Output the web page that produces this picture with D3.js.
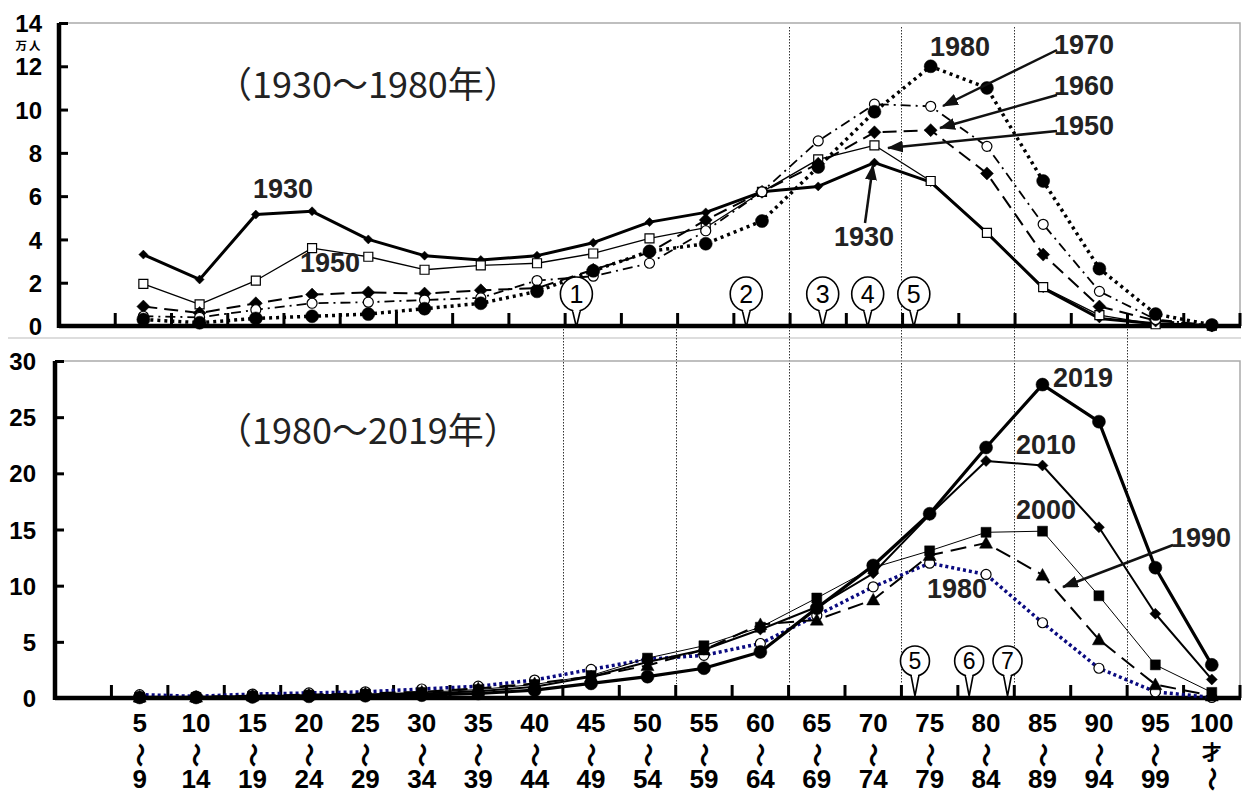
<!DOCTYPE html>
<html>
<head>
<meta charset="utf-8">
<script src="https://cdn.jsdelivr.net/npm/d3@7"></script>
<style>
html, body { margin: 0; padding: 0; background: #fff; }
svg { display: block; }
</style>
</head>
<body>
<svg id="chart" width="1248" height="794"></svg>
<script>
// age groups on the x axis (first band "0～4" is left empty in the chart)
const ageFrom = ["5", "10", "15", "20", "25", "30", "35", "40", "45", "50", "55", "60", "65", "70", "75", "80", "85", "90", "95", "100"];
const ageTo = ["9", "14", "19", "24", "29", "34", "39", "44", "49", "54", "59", "64", "69", "74", "79", "84", "89", "94", "99", ""];
const categories = ageFrom.map((a, i) => a + "～" + ageTo[i]);

// top panel (万人), 1930-1980
const v1930 = [3.3, 2.15, 5.15, 5.3, 4.0, 3.25, 3.05, 3.25, 3.85, 4.8, 5.25, 6.2, 6.45, 7.55, 6.65, 4.3, 1.75, 0.35, 0.1, 0.02];
const v1950 = [1.95, 1.0, 2.1, 3.6, 3.2, 2.6, 2.8, 2.9, 3.35, 4.05, 4.55, 6.2, 7.7, 8.35, 6.7, 4.3, 1.8, 0.5, 0.08, 0.02];
const v1960 = [0.9, 0.6, 1.05, 1.45, 1.55, 1.5, 1.65, 1.75, 2.6, 3.4, 4.9, 6.2, 7.5, 8.95, 9.05, 7.05, 3.3, 0.9, 0.25, 0.02];
const v1970 = [0.45, 0.4, 0.75, 1.05, 1.1, 1.2, 1.3, 2.1, 2.3, 2.9, 4.4, 6.2, 8.55, 10.25, 10.15, 8.3, 4.7, 1.6, 0.3, 0.02];
const v1980 = [0.3, 0.15, 0.35, 0.45, 0.55, 0.8, 1.05, 1.6, 2.55, 3.45, 3.8, 4.85, 7.35, 9.9, 12.0, 11.0, 6.7, 2.65, 0.55, 0.05];

// bottom panel, 1980-2019
const v1990 = [0.1, 0.1, 0.2, 0.3, 0.4, 0.55, 0.85, 1.3, 1.9, 2.9, 4.3, 6.55, 6.95, 8.75, 12.7, 13.8, 10.95, 5.2, 1.2, 0.2];
const v2000 = [0.05, 0.05, 0.15, 0.25, 0.35, 0.5, 0.75, 1.2, 2.0, 3.55, 4.65, 6.3, 8.9, 11.6, 13.1, 14.75, 14.85, 9.1, 2.95, 0.5];
const v2010 = [0.05, 0.05, 0.15, 0.25, 0.3, 0.4, 0.6, 1.0, 1.9, 3.2, 4.3, 6.1, 8.1, 11.1, 16.3, 21.1, 20.7, 15.2, 7.5, 1.65];
const v2019 = [0.05, 0.05, 0.1, 0.15, 0.2, 0.25, 0.4, 0.7, 1.3, 1.9, 2.65, 4.1, 8.0, 11.8, 16.4, 22.3, 27.9, 24.6, 11.6, 2.95];

const yTicksTop = [0, 2, 4, 6, 8, 10, 12, 14];
const yTicksBottom = [0, 5, 10, 15, 20, 25, 30];

// circled markers (age position)
const balloonsTop = [["1", 45.5], ["2", 60.6], ["3", 67.4], ["4", 71.4], ["5", 75.5]];
const balloonsBottom = [["5", 75.7], ["6", 80.5], ["7", 83.9]];

// dotted vertical guides at the left edge of these age groups
const guidesFull = ["65～69", "75～79", "85～89"];
const guidesLow = ["45～49", "55～59", "95～99"];

const svg = d3.select("#chart");
const narrow = "'Liberation Sans Narrow', 'Arial Narrow', 'Liberation Sans', Arial, sans-serif";
const jp = "'Noto Sans CJK JP', 'Noto Sans', sans-serif";

const panels = {
  top: { left: 59, right: 1240, top: 23, bottom: 326, max: 14, ticks: yTicksTop, labelX: 42 },
  bottom: { left: 55, right: 1240, top: 361, bottom: 698, max: 30, ticks: yTicksBottom, labelX: 36 }
};

function makeScales(p) {
  const x = d3.scaleBand().domain(["0～4"].concat(categories)).range([p.left, p.right]).padding(0);
  const y = d3.scaleLinear().domain([0, p.max]).range([p.bottom, p.top]);
  const cx = c => x(c) + x.bandwidth() / 2;
  const age = d3.scaleLinear().domain([7, 102]).range([cx(categories[0]), cx(categories[19])]);
  return { x, y, cx, age };
}
const sTop = makeScales(panels.top);
const sBot = makeScales(panels.bottom);

// arrow head
svg.append("defs").append("marker")
  .attr("id", "arrow").attr("markerUnits", "userSpaceOnUse")
  .attr("markerWidth", 16).attr("markerHeight", 12)
  .attr("refX", 15).attr("refY", 6).attr("orient", "auto")
  .append("path").attr("d", "M0,0 L16,6 L0,12 Z").attr("fill", "#111");

// separator line
svg.append("line").attr("x1", 8).attr("x2", 1241).attr("y1", 338).attr("y2", 338)
  .attr("stroke", "#bbb").attr("stroke-width", 1.2);

// dotted guides
guidesFull.forEach(c => {
  const gx = Math.round(sBot.x(c)) + 0.5;
  svg.append("line").attr("x1", gx).attr("x2", gx).attr("y1", 27).attr("y2", 684)
    .attr("stroke", "#333").attr("stroke-width", 1).attr("stroke-dasharray", "1.5,1.5");
});
guidesLow.forEach(c => {
  const gx = Math.round(sBot.x(c)) + 0.5;
  svg.append("line").attr("x1", gx).attr("x2", gx).attr("y1", 326).attr("y2", 684)
    .attr("stroke", "#333").attr("stroke-width", 1).attr("stroke-dasharray", "1.5,1.5");
});

function drawFrame(p, s) {
  const g = svg.append("g");
  // gray border top and right
  g.append("path")
    .attr("d", `M${p.left},${p.top} H${p.right} V${p.bottom}`)
    .attr("fill", "none").attr("stroke", "#aaa").attr("stroke-width", 1.5);

  // y axis
  const yAxis = d3.axisLeft(s.y).tickValues(p.ticks).tickSize(-9).tickFormat(d3.format("d")).tickPadding(0);
  const ya = g.append("g").attr("transform", `translate(${p.left},0)`).call(yAxis);
  ya.select(".domain").remove();
  ya.selectAll(".tick line").attr("stroke", "#000").attr("stroke-width", 3);
  ya.selectAll(".tick text")
    .attr("x", p.labelX - p.left).attr("dy", "0.36em")
    .attr("font-family", "'Liberation Sans', Arial, sans-serif").attr("font-weight", "bold")
    .attr("font-size", 24).attr("fill", "#000");
  g.append("line").attr("x1", p.left).attr("x2", p.left).attr("y1", p.top).attr("y2", p.bottom + 2)
    .attr("stroke", "#000").attr("stroke-width", 4.5);

  // x axis: ticks on band boundaries
  const bounds = categories.map(c => s.x(c)).concat([p.right]);
  g.selectAll("line.xt").data(bounds).enter().append("line")
    .attr("x1", d => d).attr("x2", d => d).attr("y1", p.bottom).attr("y2", p.bottom - 13)
    .attr("stroke", "#000").attr("stroke-width", 3);
  g.append("line").attr("x1", p.left).attr("x2", p.right + 1).attr("y1", p.bottom).attr("y2", p.bottom)
    .attr("stroke", "#000").attr("stroke-width", 4.5);
}
drawFrame(panels.top, sTop);
drawFrame(panels.bottom, sBot);

// markers
function markerPath(type, r) {
  if (type === "diamond") return `M0,${-r} L${r},0 L0,${r} L${-r},0 Z`;
  if (type === "square") return `M${-r},${-r} H${r} V${r} H${-r} Z`;
  if (type === "triangle") return `M0,${-r} L${r},${r * 0.8} L${-r},${r * 0.8} Z`;
  return d3.symbol(d3.symbolCircle, Math.PI * r * r)();
}

function drawSeries(s, values, st) {
  const pts = values.map((v, i) => [s.cx(categories[i]), s.y(v)]);
  const g = svg.append("g");
  g.append("path").datum(pts)
    .attr("d", d3.line())
    .attr("fill", "none").attr("stroke", st.color || "#000")
    .attr("stroke-width", st.width)
    .attr("stroke-dasharray", st.dash || null)
    .attr("stroke-linejoin", "round");
  g.selectAll("path.m").data(pts).enter().append("path")
    .attr("class", "m")
    .attr("transform", d => `translate(${d[0]},${d[1]})`)
    .attr("d", markerPath(st.marker, st.r))
    .attr("fill", st.open ? "#fff" : "#000")
    .attr("stroke", "#000").attr("stroke-width", st.open ? 1.2 : 0.5);
}

drawSeries(sTop, v1930, { width: 3, marker: "diamond", r: 4.5 });
drawSeries(sTop, v1950, { width: 1.3, marker: "square", r: 4.5, open: true });
drawSeries(sTop, v1960, { width: 2, dash: "14,7", marker: "diamond", r: 6.5 });
drawSeries(sTop, v1970, { width: 1.8, dash: "10,5,2,5", marker: "circle", r: 5, open: true });
drawSeries(sTop, v1980, { width: 3.5, dash: "3,4", marker: "circle", r: 6.5 });

drawSeries(sBot, v1980, { width: 3.5, dash: "3,3", color: "#0a0a80", marker: "circle", r: 5, open: true });
drawSeries(sBot, v1990, { width: 2, dash: "16,8", marker: "triangle", r: 6.5 });
drawSeries(sBot, v2000, { width: 1, marker: "square", r: 5 });
drawSeries(sBot, v2010, { width: 2, marker: "diamond", r: 5.5 });
drawSeries(sBot, v2019, { width: 3.2, marker: "circle", r: 6.5 });

// balloons with circled numbers
function drawBalloons(list, s, cy, rx, ry, tipY, fs) {
  list.forEach(([n, a]) => {
    const bx = s.age(a);
    const g = svg.append("g");
    g.append("path")
      .attr("d", `M${bx - 4},${cy + ry - 1} L${bx},${tipY} L${bx + 4},${cy + ry - 1}`)
      .attr("fill", "#fff").attr("stroke", "#000").attr("stroke-width", 1.6);
    g.append("ellipse").attr("cx", bx).attr("cy", cy).attr("rx", rx).attr("ry", ry)
      .attr("fill", "#fff").attr("stroke", "#000").attr("stroke-width", 1.6);
    g.append("rect").attr("x", bx - 3).attr("y", cy + ry - 4).attr("width", 6).attr("height", 5).attr("fill", "#fff");
    g.append("text").attr("x", bx).attr("y", cy).attr("dy", "0.36em")
      .attr("text-anchor", "middle").attr("font-family", "'Liberation Sans', Arial, sans-serif")
      .attr("font-size", fs).attr("fill", "#000").text(n);
  });
}
drawBalloons(balloonsTop, sTop, 294, 16, 17, 327, 25);
drawBalloons(balloonsBottom, sBot, 661, 14.5, 15, 696, 23);

// period titles
function title(txt, x, y) {
  svg.append("text").attr("x", x).attr("y", y).attr("dy", "0.36em")
    .attr("font-family", jp).attr("font-size", 36).attr("fill", "#222").text(txt);
}
title("（1930～1980年）", 216, 85);
title("（1980～2019年）", 216, 431);

svg.append("text").attr("x", 29).attr("y", 45.8).attr("dy", "0.36em").attr("text-anchor", "middle")
  .attr("font-family", jp).attr("font-weight", "bold").attr("font-size", 11.5)
  .attr("letter-spacing", 2).text("万人");

// year labels
const yearLabels = [
  ["1930", 283, 188], ["1950", 330, 262], ["1980", 960, 46], ["1970", 1084, 44],
  ["1960", 1084, 85], ["1950", 1084, 125], ["1930", 864, 236],
  ["2019", 1083, 377], ["2010", 1046, 444], ["2000", 1046, 509], ["1990", 1201, 537], ["1980", 957, 588]
];
yearLabels.forEach(([t, x, y]) => {
  svg.append("text").attr("x", x).attr("y", y).attr("dy", "0.36em").attr("text-anchor", "middle")
    .attr("font-family", narrow).attr("font-weight", "bold").attr("font-size", 27)
    .attr("fill", "#222").text(t);
});

// arrows
const arrows = [
  [1057, 50, 943, 106], [1057, 95, 940, 128], [1057, 131, 888, 148], [865, 223, 873, 165],
  [1173, 545, 1063, 587]
];
arrows.forEach(([x1, y1, x2, y2]) => {
  svg.append("line").attr("x1", x1).attr("y1", y1).attr("x2", x2).attr("y2", y2)
    .attr("stroke", "#111").attr("stroke-width", 2.5).attr("marker-end", "url(#arrow)");
});

// x labels below the bottom panel
const xl = svg.append("g");
categories.forEach((c, i) => {
  const lx = sBot.cx(c);
  xl.append("text").attr("x", lx).attr("y", 723).attr("dy", "0.36em").attr("text-anchor", "middle")
    .attr("font-family", narrow).attr("font-weight", "bold").attr("font-size", 26).text(ageFrom[i]);
  const waveY = ageTo[i] ? 755 : 779;
  xl.append("text").attr("transform", `translate(${lx},${waveY}) rotate(90)`)
    .attr("dy", "0.36em").attr("text-anchor", "middle")
    .attr("font-family", jp).attr("font-weight", "bold").attr("font-size", 25).text("～");
  if (ageTo[i]) {
    xl.append("text").attr("x", lx).attr("y", 779).attr("dy", "0.36em").attr("text-anchor", "middle")
      .attr("font-family", narrow).attr("font-weight", "bold").attr("font-size", 26).text(ageTo[i]);
  } else {
    xl.append("text").attr("x", lx).attr("y", 753).attr("dy", "0.36em").attr("text-anchor", "middle")
      .attr("font-family", jp).attr("font-weight", "bold").attr("font-size", 20).text("才");
  }
});
</script>
</body>
</html>
